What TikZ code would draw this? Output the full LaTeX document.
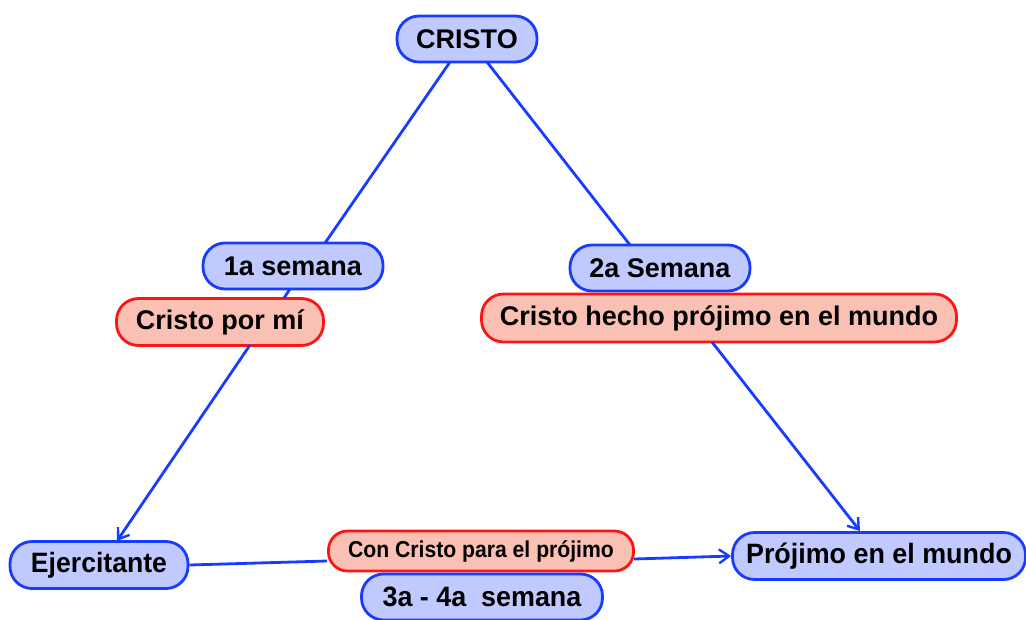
\documentclass[tikz,border=0pt]{standalone}
\usepackage{fontspec}
\setmainfont{Liberation Sans}
\usetikzlibrary{arrows.meta}
\definecolor{bfill}{RGB}{192,202,255}
\definecolor{bline}{RGB}{24,60,255}
\definecolor{rfill}{RGB}{250,192,180}
\definecolor{rline}{RGB}{255,20,20}
\begin{document}
\begin{tikzpicture}[x=1pt,y=-1pt,
  pill/.style={draw=bline,fill=bfill,line width=2.8pt,rounded corners=22pt,inner sep=0pt,font=\bfseries\fontsize{27}{30}\selectfont},
  rpill/.style={pill,draw=rline,fill=rfill},
  conn/.style={draw=bline,line width=2.8pt},
  arr/.style={conn,-{Straight Barb[length=10pt,width=14pt,line width=2.4pt]}}]
\useasboundingbox (0,0) rectangle (1026,619);
\node[pill,minimum width=140pt,minimum height=46pt] (cristo) at (467,39) {CRISTO};
\node[pill,minimum width=180pt,minimum height=46pt] (s1) at (293,266) {1a semana};
\node[rpill,minimum width=207pt,minimum height=47pt] (cpm) at (220,322) {Cristo por mí};
\node[pill,minimum width=180pt,minimum height=46pt] (s2) at (660,268) {2a Semana};
\node[rpill,minimum width=475pt,minimum height=48pt] (chp) at (719,318) {Cristo hecho prójimo en el mundo};
\node[pill,minimum width=178pt,minimum height=47pt,font=\bfseries\fontsize{28}{30}\selectfont] (ej) at (99,565) {\scalebox{0.95}[1]{Ejercitante}};
\node[rpill,minimum width=305pt,minimum height=40pt,rounded corners=19pt,font=\bfseries\fontsize{23}{26}\selectfont] (ccp) at (481,551) {\scalebox{0.92}[1]{Con Cristo para el prójimo}};
\node[pill,minimum width=241pt,minimum height=46pt,font=\bfseries\fontsize{28}{30}\selectfont] (s34) at (482,597) {\scalebox{0.96}[1]{3a - 4a\ \ semana}};
\node[pill,minimum width=293pt,minimum height=47pt,font=\bfseries\fontsize{28}{30}\selectfont] (pm) at (879,556) {\scalebox{0.96}[1]{Prójimo en el mundo}};
\draw[conn] (450,62) -- (325,243);
\draw[conn] (290,289) -- (284,298);
\draw[arr] (250,345) -- (117,541);
\draw[conn] (487,62) -- (630,245);
\draw[arr] (712,342) -- (860,531);
\draw[conn] (ej.east) -- (ccp.west |- 0,561);
\draw[arr] (634,559) -- (pm.west);
\end{tikzpicture}
\end{document}
